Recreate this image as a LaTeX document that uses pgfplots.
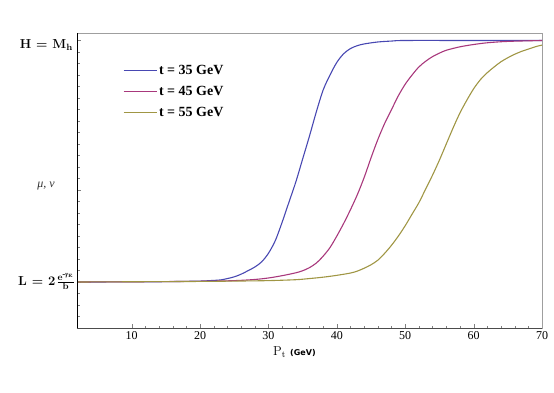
\documentclass[border=0pt]{standalone}
\usepackage{pgfplots}
\pgfplotsset{compat=1.18}
\usepackage{fontspec}
\newfontfamily\libser{Liberation Serif}
\newfontfamily\dejavu{DejaVu Sans}

\definecolor{cblue}{RGB}{72,72,178}
\definecolor{cmag}{RGB}{168,56,124}
\definecolor{colive}{RGB}{160,150,68}

\begin{document}
\begin{tikzpicture}
\begin{axis}[
  name=ax,
  scale only axis,
  width=465pt, height=295pt,
  xmin=2, xmax=70, ymin=-4, ymax=21.65,
  xtick={10,20,30,40,50,60,70},
  xticklabels={10,20,30,40,50,60,70},
  minor x tick num=4,
  ytick={0,8,21},
  yticklabels={,,},
  minor ytick={-4,-3,...,21},
  tick pos=left,
  tick align=inside,
  major tick length=4pt, minor tick length=2.5pt,
  tick style={gray},
  axis line style={gray!75},
  xticklabel style={font=\libser\fontsize{12}{13}\selectfont},
  legend style={draw=none, fill=none, at={(0.092,0.905)}, anchor=north west,
    font=\libser\fontsize{14}{15}\selectfont\bfseries, row sep=6pt},
  legend cell align=left,
  legend image code/.code={\draw[#1] (0pt,0pt) -- (33pt,0pt);},
]
\addplot[cblue, line width=1.1pt, smooth] coordinates {
(2,0) (10,0.01) (15,0.03) (20,0.08) (22,0.14) (23,0.18) (24,0.3) (25,0.45)
(26,0.68) (27,0.98) (28,1.3) (29,1.75) (30,2.5) (31,3.6) (32,5.2) (33,6.95)
(34,8.7) (35,10.7) (36,12.7) (37,14.8) (38,16.7) (39,18.0) (40,19.1)
(41,19.85) (42,20.3) (43,20.55) (44,20.7) (46,20.87) (48,20.95) (50,21)
(60,21) (70,21)};
\addlegendentry{t = 35 GeV}
\addplot[cmag, line width=1.1pt, smooth] coordinates {
(2,0) (10,0.02) (20,0.06) (25,0.12) (28,0.22) (30,0.35) (32,0.55) (34,0.8)
(35,0.98) (36,1.25) (37,1.65) (38,2.25) (39,3.0) (40,4.0) (41,5.1) (42,6.3)
(43,7.6) (44,9.1) (45,10.8) (46,12.4) (47,13.8) (48,15.0) (49,16.2) (50,17.2)
(51,18.0) (52,18.7) (53,19.2) (54,19.6) (55,19.9) (56,20.15) (58,20.45)
(60,20.65) (62,20.8) (65,20.92) (70,21)};
\addlegendentry{t = 45 GeV}
\addplot[colive, line width=1.1pt, smooth] coordinates {
(2,0) (20,0.05) (25,0.08) (30,0.12) (34,0.2) (36,0.3) (38,0.42) (40,0.58)
(42,0.78) (43,0.95) (44,1.2) (45,1.5) (46,1.9) (47,2.5) (48,3.2) (49,4.0)
(50,4.9) (51,5.9) (52,6.9) (53,8.1) (54,9.3) (55,10.6) (56,12.0) (57,13.4)
(58,14.7) (59,15.8) (60,16.8) (61,17.6) (62,18.2) (63,18.7) (64,19.15)
(65,19.5) (66,19.8) (67,20.05) (68,20.25) (69,20.45) (70,20.6)};
\addlegendentry{t = 55 GeV}
\end{axis}
% darker left and bottom frame lines
\draw[black, line width=0.9pt] (ax.south west) -- (ax.north west);
\draw[black!70, line width=0.8pt] (ax.south west) -- (ax.south east);
% axis texts
\node[anchor=base east, inner sep=0pt, font=\fontsize{13}{14}\selectfont\bfseries] at ([shift={(-4pt,279.7pt)}]ax.south west) {H = M\textsubscript{h}};
\node[anchor=base east, inner sep=0pt, font=\fontsize{13}{14}\selectfont\bfseries] at ([shift={(-3pt,43pt)}]ax.south west) {L = 2\,{\fontsize{9.5}{9.5}\selectfont\renewcommand\arraystretch{0.85}\begin{tabular}{@{}c@{}}e\textsuperscript{-{\libser\itshape γ}\textsubscript{E}}\\[-1pt]\hline b\end{tabular}}};
\node[anchor=base east, inner sep=0pt, text=black!80, font=\libser\itshape\fontsize{12}{13}\selectfont] at ([shift={(-22pt,141pt)}]ax.south west) {μ, ν};
\node[anchor=base west, inner sep=0pt, font=\fontsize{13}{14}\selectfont] at ([shift={(196pt,-27.5pt)}]ax.south west) {P\textsubscript{t} {\dejavu\bfseries\fontsize{8}{9}\selectfont(GeV)}};
\path ([shift={(-77pt,-64.3pt)}]ax.south west) rectangle ([shift={(12pt,33pt)}]ax.north east);
\end{tikzpicture}
\end{document}
